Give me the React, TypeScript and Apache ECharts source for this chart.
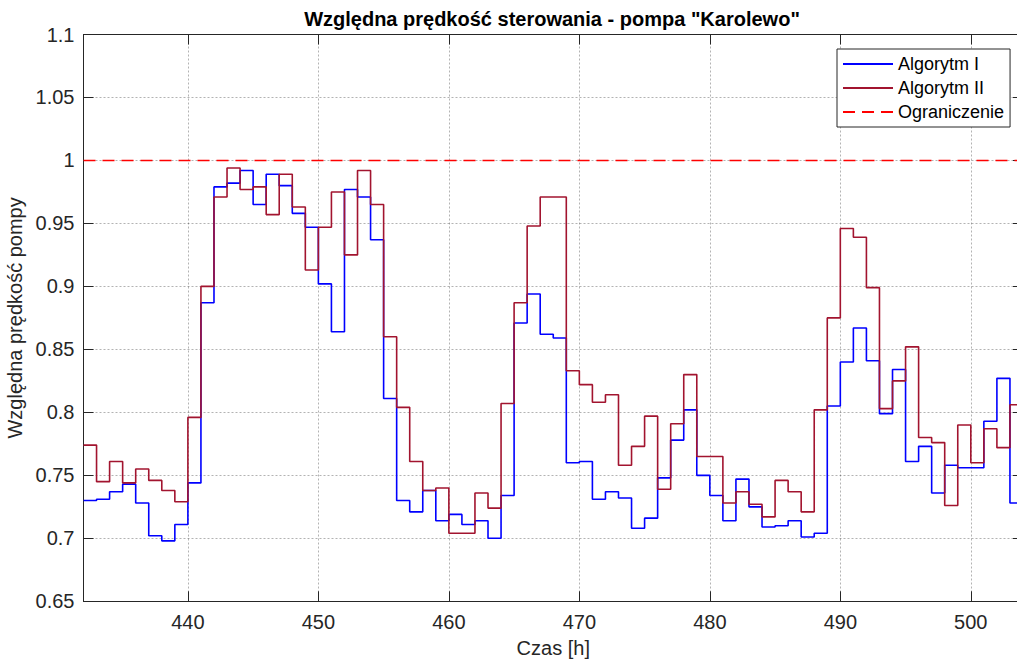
import React, { useEffect, useRef } from "react";
import * as echarts from "echarts";

const hours: number[] = [
  432, 433, 434, 435, 436, 437, 438, 439, 440, 441, 442, 443, 444, 445, 446, 447, 448, 449,
  450, 451, 452, 453, 454, 455, 456, 457, 458, 459, 460, 461, 462, 463, 464, 465, 466, 467,
  468, 469, 470, 471, 472, 473, 474, 475, 476, 477, 478, 479, 480, 481, 482, 483, 484, 485,
  486, 487, 488, 489, 490, 491, 492, 493, 494, 495, 496, 497, 498, 499, 500, 501, 502, 503, 504,
];

const algorytmI: number[] = [
  0.730, 0.731, 0.737, 0.743, 0.728, 0.702, 0.698, 0.711, 0.744, 0.887, 0.979, 0.982, 0.992, 0.965, 0.989, 0.980, 0.958, 0.947,
  0.902, 0.864, 0.977, 0.971, 0.937, 0.811, 0.730, 0.721, 0.738, 0.714, 0.719, 0.711, 0.714, 0.700, 0.734, 0.871, 0.894, 0.862,
  0.859, 0.760, 0.761, 0.731, 0.737, 0.732, 0.708, 0.716, 0.748, 0.778, 0.802, 0.750, 0.734, 0.714, 0.747, 0.725, 0.709, 0.710,
  0.714, 0.701, 0.704, 0.805, 0.840, 0.867, 0.841, 0.799, 0.834, 0.761, 0.773, 0.736, 0.758, 0.756, 0.756, 0.793, 0.827, 0.728, 0.728,
];

const algorytmII: number[] = [
  0.774, 0.745, 0.761, 0.744, 0.755, 0.746, 0.738, 0.729, 0.796, 0.900, 0.971, 0.994, 0.977, 0.979, 0.957, 0.989, 0.963, 0.913,
  0.947, 0.975, 0.925, 0.992, 0.965, 0.860, 0.804, 0.761, 0.738, 0.740, 0.704, 0.704, 0.736, 0.724, 0.807, 0.887, 0.948, 0.971,
  0.971, 0.833, 0.822, 0.808, 0.814, 0.758, 0.773, 0.797, 0.739, 0.791, 0.830, 0.765, 0.765, 0.728, 0.737, 0.727, 0.717, 0.746,
  0.737, 0.721, 0.802, 0.875, 0.946, 0.939, 0.899, 0.803, 0.825, 0.852, 0.780, 0.776, 0.726, 0.790, 0.760, 0.787, 0.772, 0.806, 0.806,
];

const limitX: number[] = [432, 504];
const limitY: number[] = [1, 1];

const seriesNames: string[] = ["Algorytm I", "Algorytm II", "Ograniczenie"];
const titleText = 'Względna prędkość sterowania - pompa "Karolewo"';
const xName = "Czas [h]";
const yName = "Względna prędkość pompy";

const FONT = "'Liberation Sans', Arial, Helvetica, sans-serif";
const AX = "#262626";

export default function App() {
  const ref = useRef<HTMLDivElement>(null);
  useEffect(() => {
    if (!ref.current) return;
    const chart = echarts.init(ref.current, undefined, { renderer: "svg" });
    const pairs = (xs: number[], ys: number[]) => xs.map((x, i) => [x, ys[i]]);
    const gridLine = { show: true, lineStyle: { color: "rgba(38,38,38,0.35)", type: [2, 2] as any, width: 1 } };
    chart.setOption({
      animation: false,
      textStyle: { fontFamily: FONT },
      graphic: [
        {
          type: "text",
          x: 552,
          y: 19,
          style: {
            text: titleText,
            font: `bold 20px ${FONT}`,
            fill: "#000",
            textAlign: "center",
            textVerticalAlign: "middle",
          },
        },
      ],
      grid: {
        left: 83.5,
        right: -6,
        top: 34.5,
        bottom: 62.7,
        show: false,
        containLabel: false,
        outerBoundsMode: "none",
      },
      legend: {
        orient: "vertical",
        left: 837,
        top: 49,
        padding: [6, 6, 6, 5],
        itemWidth: 50,
        itemHeight: 14,
        itemGap: 6,
        backgroundColor: "#fff",
        borderColor: AX,
        borderWidth: 1,
        borderRadius: 0,
        itemStyle: { opacity: 0 },
        textStyle: { fontSize: 18, color: "#000", fontFamily: FONT, lineHeight: 18 },
        data: seriesNames,
      },
      xAxis: [
        {
          type: "value",
          min: 432,
          max: 504,
          minInterval: 10,
          maxInterval: 10,
          name: xName,
          nameLocation: "middle",
          nameGap: 37,
          nameTextStyle: { fontSize: 20, color: AX, fontFamily: FONT },
          axisLine: { show: true, lineStyle: { color: AX, width: 1 } },
          axisTick: { show: true, inside: true, length: 10, lineStyle: { color: AX } },
          axisLabel: {
            show: true,
            fontSize: 20,
            color: AX,
            margin: 11,
            showMinLabel: false,
            showMaxLabel: false,
            fontFamily: FONT,
          },
          splitLine: gridLine,
        },
        {
          type: "value",
          position: "top",
          min: 432,
          max: 504,
          minInterval: 10,
          maxInterval: 10,
          axisLine: { show: true, lineStyle: { color: AX, width: 1 } },
          axisTick: { show: true, inside: true, length: 10, lineStyle: { color: AX } },
          axisLabel: { show: false },
          splitLine: { show: false },
        },
      ],
      yAxis: [
        {
          type: "value",
          min: 0.65,
          max: 1.1,
          interval: 0.05,
          name: yName,
          nameLocation: "middle",
          nameGap: 58,
          nameTextStyle: { fontSize: 20, color: AX, fontFamily: FONT },
          axisLine: { show: true, lineStyle: { color: AX, width: 1 } },
          axisTick: { show: true, inside: true, length: 10, lineStyle: { color: AX } },
          axisLabel: {
            fontSize: 20,
            color: AX,
            margin: 9,
            fontFamily: FONT,
            formatter: (v: number) => String(+v.toFixed(2)),
          },
          splitLine: gridLine,
        },
        {
          type: "value",
          position: "right",
          min: 0.65,
          max: 1.1,
          interval: 0.05,
          axisLine: { show: true, lineStyle: { color: AX, width: 1 } },
          axisTick: { show: true, inside: true, length: 10, lineStyle: { color: AX } },
          axisLabel: { show: false },
          splitLine: { show: false },
        },
      ],
      series: [
        {
          name: seriesNames[0],
          type: "line",
          step: "end",
          symbol: "none",
          data: pairs(hours, algorytmI),
          lineStyle: { color: "#0000ff", width: 1.6 },
          itemStyle: { color: "#0000ff" },
          z: 3,
        },
        {
          name: seriesNames[1],
          type: "line",
          step: "end",
          symbol: "none",
          data: pairs(hours, algorytmII),
          lineStyle: { color: "#a2142f", width: 1.6 },
          itemStyle: { color: "#a2142f" },
          z: 4,
        },
        {
          name: seriesNames[2],
          type: "line",
          symbol: "none",
          data: pairs(limitX, limitY),
          lineStyle: { color: "#ff0000", width: 1.6, type: [12, 7] },
          itemStyle: { color: "#ff0000" },
          z: 5,
        },
      ],
    });
    return () => chart.dispose();
  }, []);
  return (
    <div
      ref={ref}
      style={{ position: "absolute", left: 0, top: 0, width: 1017, height: 664, background: "#fff" }}
    />
  );
}
